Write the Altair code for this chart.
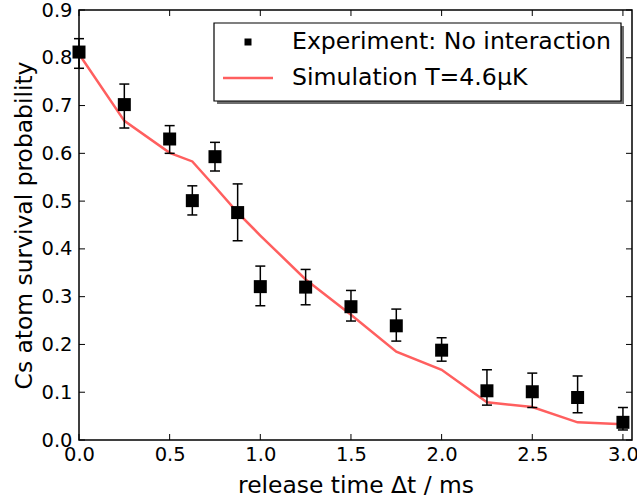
import altair as alt
import pandas as pd

# Experiment data
exp_x = [0.0, 0.25, 0.5, 0.625, 0.75, 0.875, 1.0, 1.25, 1.5, 1.75, 2.0, 2.25, 2.5, 2.75, 3.0]
exp_y = [0.812, 0.702, 0.630, 0.501, 0.593, 0.476, 0.321, 0.320, 0.279, 0.239, 0.188, 0.103, 0.101, 0.089, 0.037]
exp_lo = [0.778, 0.653, 0.600, 0.471, 0.563, 0.417, 0.281, 0.283, 0.249, 0.207, 0.165, 0.073, 0.068, 0.057, 0.021]
exp_hi = [0.840, 0.745, 0.658, 0.532, 0.623, 0.536, 0.364, 0.357, 0.313, 0.274, 0.214, 0.147, 0.140, 0.134, 0.068]

# Simulation
sim_x = [0.0, 0.25, 0.5, 0.625, 0.75, 0.875, 1.0, 1.25, 1.5, 1.75, 2.0, 2.25, 2.5, 2.75, 3.0]
sim_y = [0.808, 0.668, 0.601, 0.583, 0.530, 0.476, 0.428, 0.336, 0.262, 0.185, 0.147, 0.079, 0.069, 0.037, 0.033]

x_ticks = [0.0, 0.5, 1.0, 1.5, 2.0, 2.5, 3.0]
y_ticks = [0.0, 0.1, 0.2, 0.3, 0.4, 0.5, 0.6, 0.7, 0.8, 0.9]

legend_labels = ["Experiment: No interaction", "Simulation T=4.6μK"]

W, H = 553, 430
FONT = "DejaVu Sans"
RED = "#ff5f5f"

exp_df = pd.DataFrame({"t": exp_x, "p": exp_y, "lo": exp_lo, "hi": exp_hi})
sim_df = pd.DataFrame({"t": sim_x, "p": sim_y})
xt_df = pd.DataFrame({"v": x_ticks})
yt_df = pd.DataFrame({"v": y_ticks})
one = pd.DataFrame({"a": [0]})

xscale = alt.Scale(domain=[0, 3.05], nice=False, zero=False)
yscale = alt.Scale(domain=[0, 0.9], nice=False, zero=False)

xaxis = alt.Axis(values=x_ticks, format=".1f", ticks=False, domain=False, grid=False,
                 labelFontSize=19.5, labelPadding=5, labelFont=FONT, labelColor="black",
                 title="release time Δt / ms", titleFontSize=23.4, titleFont=FONT,
                 titleFontWeight="normal", titleColor="black", titlePadding=11,
                 labelFlush=False, labelOverlap=False)
yaxis = alt.Axis(values=y_ticks, format=".1f", ticks=False, domain=False, grid=False,
                 labelFontSize=19.5, labelPadding=7, labelFont=FONT, labelColor="black",
                 title="Cs atom survival probability", titleFontSize=23.4, titleFont=FONT,
                 titleFontWeight="normal", titleColor="black", titlePadding=4,
                 labelFlush=False, labelOverlap=False)

sim_line = alt.Chart(sim_df).mark_line(color=RED, strokeWidth=2.5, clip=False).encode(
    x=alt.X("t:Q", scale=xscale, axis=xaxis),
    y=alt.Y("p:Q", scale=yscale, axis=yaxis),
)

err_rule = alt.Chart(exp_df).mark_rule(color="black", strokeWidth=1.5).encode(
    x=alt.X("t:Q", scale=xscale), y=alt.Y("lo:Q", scale=yscale), y2="hi:Q"
)
cap_lo = alt.Chart(exp_df).mark_tick(color="black", orient="horizontal", size=10, thickness=1.5, opacity=1).encode(
    x=alt.X("t:Q", scale=xscale), y=alt.Y("lo:Q", scale=yscale)
)
cap_hi = alt.Chart(exp_df).mark_tick(color="black", orient="horizontal", size=10, thickness=1.5, opacity=1).encode(
    x=alt.X("t:Q", scale=xscale), y=alt.Y("hi:Q", scale=yscale)
)
points = alt.Chart(exp_df).mark_square(color="black", size=169, opacity=1, filled=True).encode(
    x=alt.X("t:Q", scale=xscale), y=alt.Y("p:Q", scale=yscale)
)

TL = 6
tick_bottom = alt.Chart(xt_df).mark_rule(color="black", strokeWidth=1).encode(
    x=alt.X("v:Q", scale=xscale), y=alt.value(H), y2=alt.value(H - TL))
tick_top = alt.Chart(xt_df).mark_rule(color="black", strokeWidth=1).encode(
    x=alt.X("v:Q", scale=xscale), y=alt.value(0), y2=alt.value(TL))
tick_left = alt.Chart(yt_df).mark_rule(color="black", strokeWidth=1).encode(
    y=alt.Y("v:Q", scale=yscale), x=alt.value(0), x2=alt.value(TL))
tick_right = alt.Chart(yt_df).mark_rule(color="black", strokeWidth=1).encode(
    y=alt.Y("v:Q", scale=yscale), x=alt.value(W), x2=alt.value(W - TL))

# Legend (drawn inside the plot, top right)
bx0, bx1, by0, by1 = 135, 542, 13, 91
leg_shadow = alt.Chart(one).mark_rect(color="#6e6e6e").encode(
    x=alt.value(bx0 + 3), x2=alt.value(bx1 + 3), y=alt.value(by0 + 3), y2=alt.value(by1 + 3))
leg_box = alt.Chart(one).mark_rect(fill="white", stroke="black", strokeWidth=1.2).encode(
    x=alt.value(bx0), x2=alt.value(bx1), y=alt.value(by0), y2=alt.value(by1))
leg_sq = alt.Chart(one).mark_square(color="black", size=49, opacity=1).encode(
    x=alt.value(169), y=alt.value(32))
leg_line = alt.Chart(one).mark_rule(color=RED, strokeWidth=2.5).encode(
    x=alt.value(144), x2=alt.value(194), y=alt.value(68))
leg_t1 = alt.Chart(one).mark_text(align="left", baseline="middle", fontSize=23.6, font=FONT, color="black").encode(
    x=alt.value(213), y=alt.value(32), text=alt.value(legend_labels[0]))
leg_t2 = alt.Chart(one).mark_text(align="left", baseline="middle", fontSize=23.6, font=FONT, color="black").encode(
    x=alt.value(213), y=alt.value(68), text=alt.value(legend_labels[1]))

chart = alt.layer(
    sim_line, err_rule, cap_lo, cap_hi, points,
    tick_bottom, tick_top, tick_left, tick_right,
    leg_shadow, leg_box, leg_sq, leg_line, leg_t1, leg_t2,
).properties(
    width=W, height=H,
    autosize=alt.AutoSizeParams(type="none"),
    padding={"left": 79, "top": 10, "right": 5, "bottom": 58},
    background="white",
).configure_view(stroke="black", strokeWidth=1.5)

chart.save("out.html", embed_options={"renderer": "svg", "actions": False})
